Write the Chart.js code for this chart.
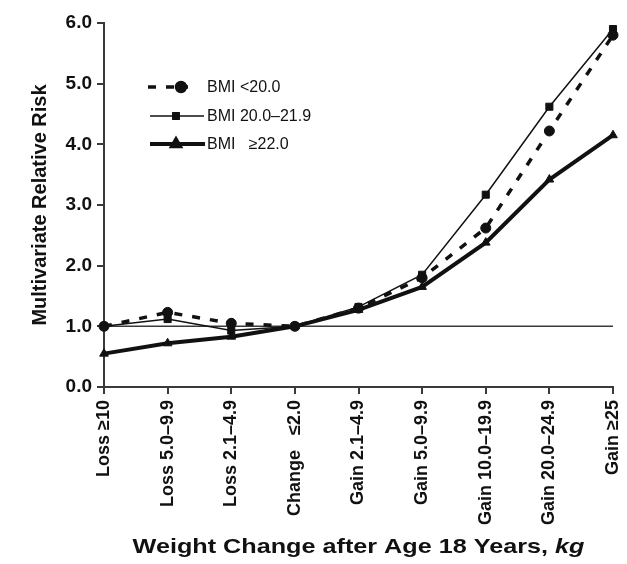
<!DOCTYPE html>
<html>
<head>
<meta charset="utf-8">
<script src="https://cdn.jsdelivr.net/npm/chart.js@4/dist/chart.umd.min.js"></script>
<style>
html,body{margin:0;padding:0;background:#fff;}
#wrap{width:627px;height:564px;position:relative;}
</style>
</head>
<body>
<div id="wrap"><canvas id="c" width="627" height="564"></canvas></div>
<script>
const categories = ["Loss \u226510", "Loss 5.0\u20139.9", "Loss 2.1\u20134.9", "Change   \u22642.0", "Gain 2.1\u20134.9", "Gain 5.0\u20139.9", "Gain 10.0\u201319.9", "Gain 20.0\u201324.9", "Gain \u226525"];
const bmiUnder20 = [1.0, 1.23, 1.05, 1.0, 1.3, 1.8, 2.62, 4.22, 5.8];
const bmi20to219 = [1.0, 1.12, 0.93, 1.0, 1.32, 1.85, 3.17, 4.62, 5.9];
const bmi22plus = [0.55, 0.72, 0.83, 1.0, 1.27, 1.65, 2.38, 3.42, 4.15];
const seriesNames = ["BMI <20.0", "BMI 20.0\u201321.9", "BMI   \u226522.0"];
const yTicks = [0, 1, 2, 3, 4, 5, 6];
const referenceValue = 1.0;
const yTitle = "Multivariate Relative Risk";
const xTitleMain = "Weight Change after Age 18 Years, ";
const xTitleUnit = "kg";

const INK = '#111';
const AXIS = '#3a3a3a';
const FONT = "'Liberation Sans', Arial, sans-serif";

const refLinePlugin = {
  id: 'refLine',
  beforeDatasetsDraw(chart) {
    const {ctx, chartArea, scales} = chart;
    const py = scales.y.getPixelForValue(referenceValue);
    ctx.save();
    ctx.strokeStyle = AXIS;
    ctx.lineWidth = 1.5;
    ctx.beginPath();
    ctx.moveTo(chartArea.left, py);
    ctx.lineTo(chartArea.right, py);
    ctx.stroke();
    ctx.restore();
  }
};

const legendPlugin = {
  id: 'innerLegend',
  afterDraw(chart) {
    const {ctx} = chart;
    const rows = [87, 116, 144];
    const spans = [[148, 188], [150, 204], [150, 205]];
    const markX = [181, 176, 176];
    const textX = 207;
    chart.data.datasets.forEach((ds, i) => {
      const y = rows[i];
      ctx.save();
      ctx.strokeStyle = INK;
      ctx.lineWidth = ds.borderWidth;
      ctx.setLineDash(ds.borderDash || []);
      ctx.beginPath();
      ctx.moveTo(spans[i][0], y);
      ctx.lineTo(spans[i][1], y);
      ctx.stroke();
      ctx.setLineDash([]);
      ctx.fillStyle = INK;
      Chart.helpers.drawPoint(ctx, {pointStyle: ds.pointStyle, radius: ds.pointRadius - 0.5, borderWidth: 1, rotation: 0}, markX[i], y);
      ctx.fill();
      ctx.font = "16px " + FONT;
      ctx.textBaseline = 'middle';
      ctx.textAlign = 'left';
      ctx.fillStyle = INK;
      ctx.fillText(ds.label, textX, y + 1);
      ctx.restore();
    });
  }
};

const xTitlePlugin = {
  id: 'xTitle',
  afterDraw(chart) {
    const {ctx, chartArea} = chart;
    ctx.save();
    const f1 = "bold 21px " + FONT;
    const f2 = "italic bold 21px " + FONT;
    const sx = 1.2;
    ctx.font = f1;
    const w1 = ctx.measureText(xTitleMain).width;
    ctx.font = f2;
    const w2 = ctx.measureText(xTitleUnit).width;
    const cx = (chartArea.left + chartArea.right) / 2;
    const y = 553;
    ctx.translate(cx, y);
    ctx.scale(sx, 1);
    let x = -(w1 + w2) / 2;
    ctx.fillStyle = INK;
    ctx.textBaseline = 'alphabetic';
    ctx.textAlign = 'left';
    ctx.font = f1;
    ctx.fillText(xTitleMain, x, 0);
    ctx.font = f2;
    ctx.fillText(xTitleUnit, x + w1, 0);
    ctx.restore();
  }
};

new Chart(document.getElementById('c'), {
  type: 'line',
  data: {
    labels: categories,
    datasets: [
      {label: seriesNames[0], data: bmiUnder20, borderColor: INK, backgroundColor: INK, borderWidth: 3.5, borderDash: [8, 10], pointStyle: 'circle', pointRadius: 5, pointBorderWidth: 1, tension: 0},
      {label: seriesNames[1], data: bmi20to219, borderColor: INK, backgroundColor: INK, borderWidth: 1.5, pointStyle: 'rect', pointRadius: 5, pointBorderWidth: 1, tension: 0},
      {label: seriesNames[2], data: bmi22plus, borderColor: INK, backgroundColor: INK, borderWidth: 4, pointStyle: 'triangle', pointRadius: 5, pointBorderWidth: 1, tension: 0}
    ]
  },
  options: {
    responsive: false,
    animation: false,
    layout: {padding: {left: 28, right: 14, top: 23, bottom: 0}},
    plugins: {legend: {display: false}, tooltip: {enabled: false}, title: {display: false}},
    scales: {
      x: {
        type: 'category',
        offset: false,
        grid: {display: true, drawOnChartArea: false, drawTicks: true, tickLength: 7, color: AXIS, lineWidth: 2},
        border: {display: true, color: AXIS, width: 2},
        ticks: {autoSkip: false, maxRotation: 90, minRotation: 90, color: INK, padding: 6, font: {family: FONT, size: 18, weight: 'bold'}},
        afterFit(scale) { scale.height = 177; scale.paddingRight = 0; scale.paddingLeft = 0; }
      },
      y: {
        min: 0, max: 6,
        afterBuildTicks(scale) { scale.ticks = yTicks.map(v => ({value: v})); },
        grid: {display: true, drawOnChartArea: false, drawTicks: true, tickLength: 7, color: AXIS, lineWidth: 2},
        border: {display: true, color: AXIS, width: 2},
        ticks: {color: INK, padding: 5, font: {family: FONT, size: 19, weight: 'bold'}, callback: v => Number(v).toFixed(1)},
        title: {display: true, text: yTitle, color: INK, padding: {top: 0, bottom: 0}, font: {family: FONT, size: 20, weight: 'bold'}},
        afterFit(scale) { scale.width = 76; }
      }
    }
  },
  plugins: [refLinePlugin, legendPlugin, xTitlePlugin]
});
</script>
</body>
</html>
